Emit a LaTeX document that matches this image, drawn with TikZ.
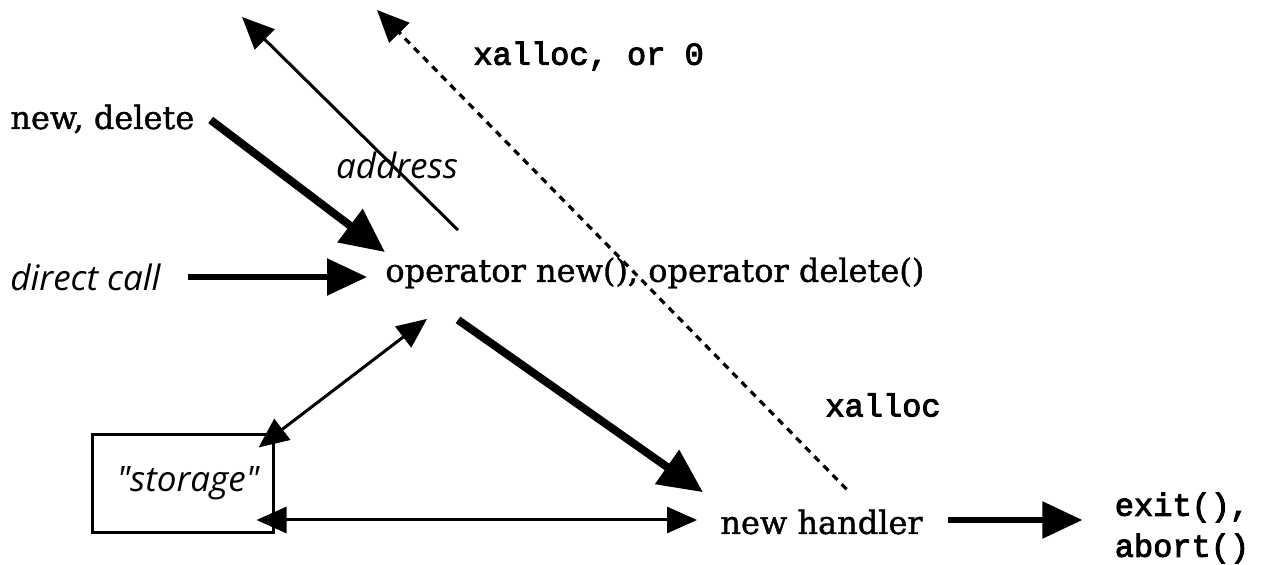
\documentclass[tikz,border=0pt]{standalone}
\usepackage{fontspec}
\setmainfont{DejaVu Serif}[FakeBold=1.2]
\newfontfamily\monof{Liberation Mono}[FakeBold=3]
\newfontfamily\itsans{Open Sans}
\usetikzlibrary{arrows.meta,calc}
\tikzset{
  serif/.style={font=\fontsize{16pt}{19pt}\selectfont, inner sep=0pt},
  mono/.style={font=\monof\fontsize{16pt}{20.5pt}\selectfont, inner sep=0pt},
  itlab/.style={font=\itsans\itshape\fontsize{17.5pt}{20pt}\selectfont, inner sep=0pt},
  thickarr/.style={line width=4pt, -{Triangle[length=22pt,width=20pt]}},
  medarr/.style={line width=2.75pt, -{Triangle[length=20pt,width=18pt]}},
  thinarr/.style={line width=1.5pt, -{Triangle[length=16pt,width=14pt]}},
  dasharr/.style={line width=1.6pt, dash pattern=on 3.5pt off 3pt, -{Triangle[length=16pt,width=14pt]}},
  dblarr/.style={line width=1.5pt, {Triangle[length=15pt,width=13pt]}-{Triangle[length=15pt,width=13pt]}},
  boxst/.style={draw, line width=1.5pt, minimum width=90.5pt, minimum height=49pt, inner sep=0pt}
}
\begin{document}
\begin{tikzpicture}[x=0.5pt,y=-0.5pt]
\useasboundingbox (0,0) rectangle (1262,565);
% texts
\node[serif, anchor=west] (nd) at (10,119) {new, delete};
\node[itlab, anchor=west] (dc) at (10,277) {direct call};
\node[serif, anchor=west] (op) at (385,273) {operator new(), operator delete()};
\node[itlab] (addr) at (397,165) {address};
\node[mono, anchor=west] (xo) at (473,56) {xalloc, or 0};
\node[mono, anchor=west] (xa) at (825,405) {xalloc};
\node[boxst] (st) at (182.5,484) {};
\node[itlab] (stl) at (188,483) {"storage"};
\node[serif, anchor=west] (nh) at (720,522) {new handler};
\node[mono, align=right] (ex) at (1182,528) {exit(),\\abort()};
% free ends
\coordinate (addrtip) at (242,17);
\coordinate (dashtip) at (377,10);
% connectors
\draw[thickarr] ([shift={(16,1)}]nd.east) -- ([shift={(0,-5)}]op.north west);
\draw[medarr, shorten <=13.5pt, shorten >=9pt] (dc.east) -- (dc.east -| op.west);
\draw[thinarr] ([shift={(73,-27)}]op.north west) -- (addrtip);
\draw[dasharr] ([shift={(25,-20)}]nh.north) -- (dashtip);
\draw[dblarr] ([shift={(42,30)}]op.south west) -- ([shift={(-16,14)}]st.north east);
\draw[thickarr] ([shift={(73,31)}]op.south west) -- ([shift={(-17,-17)}]nh.north west);
\draw[dblarr] ([shift={(-18,36)}]st.east) -- ([shift={(-23,-2)}]nh.west);
\draw[medarr, shorten <=12.5pt, shorten >=16pt] ([yshift=1pt]nh.east) -- ([yshift=1pt]nh.east -| ex.west);
\end{tikzpicture}
\end{document}
